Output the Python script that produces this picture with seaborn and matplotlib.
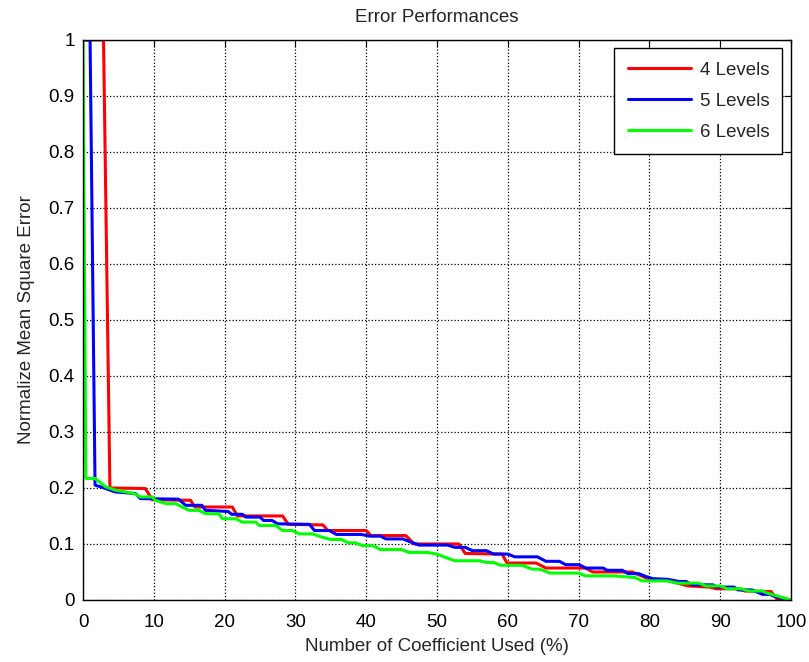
import pandas as pd
import matplotlib
matplotlib.use("Agg")
import matplotlib.pyplot as plt
import seaborn as sns
from matplotlib.ticker import FormatStrFormatter

# coefficient used (%) and normalised MSE
x_4lev = [0, 2.9, 3.8, 8.8, 9.8, 15.2, 15.8, 21.1, 21.8, 28.2,
          29.0, 33.9, 34.6, 40.0, 40.7, 45.6, 46.8, 53.1, 54.0, 59.2,
          59.9, 64.0, 65.4, 71.0, 72.0, 77.6, 78.5, 80, 82.5, 84,
          85.5, 88.5, 89.5, 92.5, 93.5, 97.2, 98, 100]
y_4lev = [1, 1, 0.2, 0.199, 0.179, 0.178, 0.166, 0.166, 0.15, 0.15,
          0.135, 0.134, 0.124, 0.124, 0.115, 0.115, 0.1, 0.1, 0.083, 0.082,
          0.066, 0.066, 0.057, 0.057, 0.05, 0.05, 0.045, 0.037, 0.035, 0.03,
          0.025, 0.023, 0.02, 0.02, 0.016, 0.015, 0.002, 0.0]

x_5lev = [0, 1.0, 1.7, 3.0, 4.5, 7.4, 8.1, 13.5, 14.5, 16.8,
          17.3, 20.5, 21.0, 22.5, 23.0, 25.0, 25.5, 26.7, 27.5, 32.0,
          32.7, 34.8, 35.8, 39.3, 40.5, 42.0, 42.8, 45.2, 46.6, 47.5,
          51.5, 52.5, 54.0, 55.0, 57.0, 58.0, 60.0, 61.0, 64.2, 65.4,
          67.3, 68.2, 70.1, 71.0, 73.5, 74.0, 76.2, 77.0, 78.5, 79.5,
          80.5, 82.5, 84.2, 85.2, 86.0, 89.0, 89.5, 92.0, 92.5, 94.5,
          96.0, 97.0, 98.0, 100]
y_5lev = [1, 1, 0.205, 0.2, 0.193, 0.19, 0.181, 0.18, 0.169, 0.169,
          0.16, 0.158, 0.153, 0.153, 0.148, 0.148, 0.142, 0.142, 0.136, 0.135,
          0.124, 0.124, 0.117, 0.117, 0.114, 0.114, 0.109, 0.109, 0.102, 0.098,
          0.098, 0.094, 0.094, 0.088, 0.088, 0.082, 0.082, 0.077, 0.077, 0.069,
          0.069, 0.063, 0.063, 0.057, 0.057, 0.053, 0.053, 0.047, 0.047, 0.042,
          0.038, 0.037, 0.033, 0.033, 0.027, 0.027, 0.023, 0.023, 0.018, 0.018,
          0.01, 0.01, 0.005, 0.0]

x_6lev = [0, 0.4, 1.7, 3.2, 4.6, 6.0, 7.2, 8.1, 9.8, 10.2,
          11.7, 13.1, 14.0, 15.0, 16.4, 17.3, 19.2, 19.7, 21.6, 22.5,
          24.4, 24.9, 27.2, 28.2, 29.6, 30.5, 32.4, 33.8, 35, 36.5,
          37.5, 38.5, 39.5, 41, 42, 45, 46, 48.5, 50, 51,
          52.5, 56, 57, 58, 59, 62, 63.5, 64.5, 66, 70,
          71, 75, 78, 79, 82.5, 84, 87, 88, 90, 91,
          93, 94, 96, 96.5, 100]
y_6lev = [1, 0.217, 0.217, 0.202, 0.196, 0.193, 0.19, 0.184, 0.184, 0.178,
          0.172, 0.172, 0.166, 0.16, 0.16, 0.154, 0.154, 0.145, 0.145, 0.139,
          0.139, 0.133, 0.133, 0.124, 0.124, 0.118, 0.118, 0.112, 0.108, 0.108,
          0.102, 0.102, 0.097, 0.097, 0.09, 0.09, 0.085, 0.085, 0.082, 0.077,
          0.07, 0.07, 0.067, 0.067, 0.062, 0.062, 0.055, 0.055, 0.048, 0.048,
          0.043, 0.043, 0.04, 0.034, 0.034, 0.03, 0.03, 0.025, 0.025, 0.02,
          0.02, 0.016, 0.016, 0.013, 0.0]

labels = ["4 Levels", "5 Levels", "6 Levels"]
colors = ["#ff0000", "#0000ff", "#00ff00"]

frames = []
for lab, xs, ys in zip(labels, [x_4lev, x_5lev, x_6lev], [y_4lev, y_5lev, y_6lev]):
    frames.append(pd.DataFrame({"coef": xs, "nmse": ys, "series": lab}))
df = pd.concat(frames, ignore_index=True)

sns.set_style("white")
plt.rcParams["font.family"] = ["Liberation Sans", "DejaVu Sans"]
fs = 13.5

fig = plt.figure(figsize=(8.09, 6.62), dpi=100)
ax = fig.add_axes([0.1026, 0.0937, 0.875, 0.846])

sns.lineplot(data=df, x="coef", y="nmse", hue="series", palette=colors,
             sort=False, estimator=None, linewidth=2.2, ax=ax)

ax.set_xlim(0, 100)
ax.set_ylim(0, 1)
ax.set_xticks(range(0, 101, 10))
ax.set_yticks([i / 10 for i in range(11)])
ax.yaxis.set_major_formatter(FormatStrFormatter("%g"))
ax.grid(True, linestyle=":", color="black", linewidth=0.9)
ax.tick_params(direction="in", top=True, right=True, length=5, width=0.8,
               labelsize=fs, colors="black")
ax.tick_params(axis="x", pad=10)
ax.tick_params(axis="y", pad=6)
for sp in ax.spines.values():
    sp.set_color("black")
    sp.set_linewidth(1.0)

ax.set_xlabel("Number of Coefficient Used (%)", fontsize=fs, labelpad=5.5)
ax.set_ylabel("Normalize Mean Square Error", fontsize=fs, labelpad=10)
ax.set_title("Error Performances", fontsize=fs, pad=13)

leg = ax.legend(loc="upper right", fontsize=fs, handlelength=3.4,
                handletextpad=0.45, labelspacing=0.75, borderaxespad=0.45,
                fancybox=False, framealpha=1, edgecolor="black", borderpad=0.7)
leg.get_frame().set_linewidth(1.0)

fig.savefig("out.png", dpi=100)
